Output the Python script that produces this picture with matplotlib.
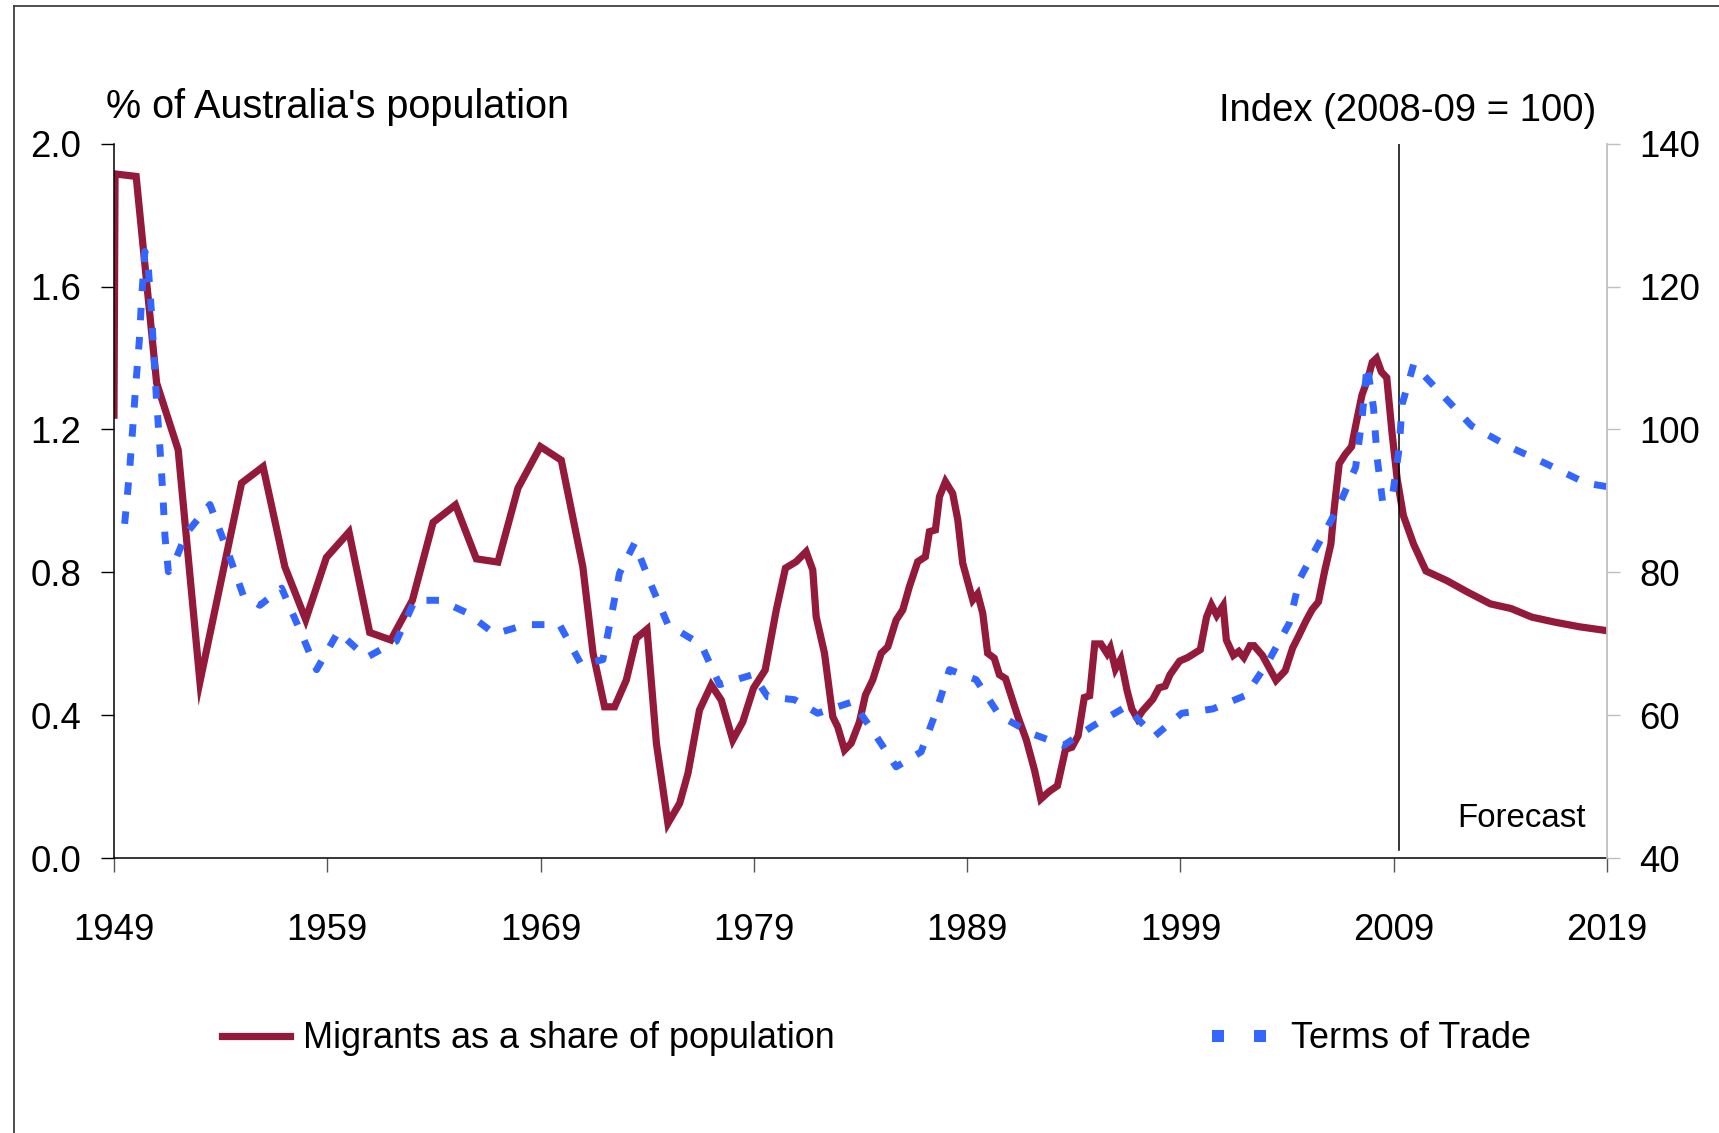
import matplotlib
matplotlib.use("Agg")
import matplotlib.pyplot as plt
import matplotlib.font_manager as fm
from matplotlib.lines import Line2D

# font: narrow sans if present, else regular with sizes scaled down
names = {f.name for f in fm.fontManager.ttflist}
if "Liberation Sans Narrow" in names:
    fam, k = "Liberation Sans Narrow", 1.0
else:
    fam, k = "Liberation Sans", 0.82
plt.rcParams["font.family"] = [fam, "DejaVu Sans"]

# migrants as a share of population (%)
mig_year = [1949.0, 1949.05, 1950.04, 1951.0, 1952.01, 1953.03, 1954.98, 1955.99,
            1957.01, 1957.99, 1958.96, 1960.02, 1960.99, 1961.98, 1962.99, 1963.96,
            1965.01, 1965.99, 1967.0, 1967.94, 1968.99, 1969.97, 1970.98, 1971.46,
            1972.0, 1972.47, 1973.02, 1973.49, 1973.99, 1974.43, 1974.97, 1975.52,
            1975.91, 1976.45, 1977.0, 1977.47, 1978.01, 1978.48, 1978.98, 1979.53,
            1980.05, 1980.48, 1980.98, 1981.45, 1981.76, 1981.92, 1982.31, 1982.70,
            1982.93, 1983.25, 1983.56, 1983.95, 1984.23, 1984.57, 1984.97, 1985.28,
            1985.67, 1985.98, 1986.29, 1986.68, 1987.04, 1987.23, 1987.51, 1987.70,
            1987.98, 1988.32, 1988.56, 1988.79, 1989.26, 1989.49, 1989.73, 1989.96,
            1990.27, 1990.51, 1990.8, 1991.38, 1991.77, 1992.16, 1992.45, 1992.84,
            1993.23, 1993.61, 1993.91, 1994.2, 1994.49, 1994.74, 1994.98, 1995.27,
            1995.56, 1995.71, 1995.95, 1996.2, 1996.49, 1996.72, 1996.98, 1997.21,
            1997.7, 1997.99, 1998.28, 1998.51, 1998.96, 1999.34, 1999.93, 2000.22,
            2000.45, 2000.7, 2001.0, 2001.15, 2001.48, 2001.73, 2001.97, 2002.26,
            2002.45, 2002.84, 2003.13, 2003.48, 2003.91, 2004.26, 2004.53, 2004.88,
            2005.17, 2005.47, 2005.76, 2006.05, 2006.2, 2006.44, 2006.73, 2007.02,
            2007.25, 2007.51, 2007.8, 2007.99, 2008.19, 2008.42, 2008.67, 2008.92,
            2009.16, 2009.45, 2009.93, 2010.51, 2011.49, 2012.46, 2013.53, 2014.5,
            2015.47, 2016.54, 2017.7, 2019.0]
mig_val = [1.24, 1.915, 1.908, 1.33, 1.143, 0.494, 1.05, 1.096,
           0.816, 0.668, 0.842, 0.913, 0.632, 0.611, 0.722, 0.94,
           0.989, 0.838, 0.829, 1.036, 1.152, 1.114, 0.816, 0.574,
           0.424, 0.424, 0.499, 0.616, 0.641, 0.322, 0.098, 0.154,
           0.238, 0.415, 0.485, 0.443, 0.331, 0.382, 0.476, 0.527,
           0.695, 0.812, 0.830, 0.858, 0.807, 0.676, 0.574, 0.396,
           0.368, 0.303, 0.322, 0.382, 0.457, 0.499, 0.574, 0.592,
           0.667, 0.695, 0.760, 0.830, 0.844, 0.914, 0.919, 1.012,
           1.054, 1.021, 0.947, 0.826, 0.723, 0.740, 0.686, 0.574,
           0.560, 0.514, 0.503, 0.396, 0.332, 0.246, 0.166, 0.187,
           0.203, 0.305, 0.311, 0.343, 0.450, 0.455, 0.600, 0.600,
           0.573, 0.589, 0.530, 0.557, 0.471, 0.418, 0.391, 0.412,
           0.445, 0.477, 0.482, 0.514, 0.552, 0.562, 0.584, 0.675,
           0.709, 0.680, 0.707, 0.611, 0.568, 0.579, 0.562, 0.595,
           0.595, 0.568, 0.536, 0.498, 0.525, 0.589, 0.621, 0.664,
           0.696, 0.718, 0.804, 0.879, 0.975, 1.104, 1.131, 1.152,
           1.222, 1.297, 1.345, 1.388, 1.399, 1.361, 1.345, 1.189,
           1.061, 0.959, 0.879, 0.804, 0.777, 0.745, 0.712, 0.699,
           0.675, 0.661, 0.648, 0.637]

# terms of trade index (2008-09 = 100)
tot_year = [1949.5, 1949.72, 1949.88, 1950.03, 1950.19, 1950.3, 1950.45, 1950.61,
            1950.77, 1950.88, 1951.0, 1951.16, 1951.29, 1951.39, 1951.55, 1951.75,
            1952.4, 1953.5, 1954.35, 1955.06, 1955.84, 1956.86, 1957.79, 1958.5,
            1959.51, 1960.84, 1962.24, 1963.1, 1964.27, 1965.52, 1966.85, 1968.33,
            1969.89, 1970.91, 1971.92, 1972.31, 1972.7, 1973.41, 1974.19, 1974.97,
            1976.53, 1977.39, 1978.95, 1979.65, 1980.9, 1981.99, 1983.63, 1984.65,
            1985.67, 1986.84, 1987.54, 1988.17, 1989.42, 1990.51, 1992.07, 1993.52,
            1994.88, 1996.44, 1997.79, 1999.06, 2000.51, 2002.06, 2003.13, 2004.1,
            2004.59, 2005.56, 2006.44, 2007.21, 2007.51, 2007.75, 2008.05, 2008.22,
            2008.48, 2008.96, 2009.25, 2009.39, 2009.93, 2011.19, 2012.65, 2014.4,
            2016.15, 2018.0, 2019.0]
tot_val = [86.8, 93.8, 100.2, 106.5, 112.5, 118.6, 124.9, 122.6,
           115.9, 109.9, 103.9, 97.2, 91.1, 85.1, 80.1, 80.8,
           85.5, 89.5, 82.8, 76.8, 75.4, 77.8, 71.4, 66.4,
           71.7, 68.1, 70.4, 76.1, 76.1, 74.4, 71.4, 72.7,
           72.7, 67.1, 67.8, 73.8, 79.9, 84.1, 78.2, 72.7,
           69.9, 64.3, 65.7, 62.6, 62.2, 60.3, 61.9, 57.5,
           52.8, 54.9, 60.5, 66.4, 65.0, 60.0, 57.4, 55.8,
           58.5, 61.2, 57.1, 60.3, 60.9, 62.8, 67.6, 72.9,
           79.1, 84.5, 89.4, 94.7, 101.5, 109.0, 103.0, 96.0,
           89.8, 91.2, 97.3, 103.5, 109.1, 105.1, 100.5, 97.6,
           95.2, 92.5, 92.0]

x_ticks = [1949, 1959, 1969, 1979, 1989, 1999, 2009, 2019]
left_ticks = [0.0, 0.4, 0.8, 1.2, 1.6, 2.0]
right_ticks = [40, 60, 80, 100, 120, 140]
forecast_start = 2009.25

red = "#931A3A"
blue = "#3366FF"

fig = plt.figure(figsize=(17.19, 11.33), dpi=100)
fig.subplots_adjust(left=0.0663, right=0.9349, top=0.8733, bottom=0.2424)
ax = fig.add_subplot(111)
ax2 = ax.twinx()

l1, = ax.plot(mig_year, mig_val, color=red, lw=5.2, solid_joinstyle="miter",
              label="Migrants as a share of population")
l2, = ax2.plot(tot_year, tot_val, color=blue, lw=5.0, linestyle=(0, (1.8, 2.4)),
               label="Terms of Trade")

ax.axvline(forecast_start, ymin=0.012, ymax=1.0, color="black", lw=1.1)
ax.text(2018.0, 0.089, "Forecast", ha="right", va="baseline", fontsize=29 * k)

ax.set_xlim(1949, 2019)
ax.set_ylim(0, 2.0)
ax2.set_ylim(40, 140)
ax.set_xticks(x_ticks)
ax.set_yticks(left_ticks)
ax.set_yticklabels([f"{v:.1f}" for v in left_ticks])
ax2.set_yticks(right_ticks)

for s in ["top", "right"]:
    ax.spines[s].set_visible(False)
for s in ["top", "left", "bottom"]:
    ax2.spines[s].set_visible(False)
ax.spines["left"].set_linewidth(1.1)
ax.spines["bottom"].set_linewidth(1.1)
ax2.spines["right"].set_color("#BFBFBF")
ax2.spines["right"].set_linewidth(1.3)

ax.tick_params(axis="y", direction="out", length=9.4, width=1.0, pad=14,
               labelsize=32 * k)
ax.tick_params(axis="x", direction="out", length=10, width=1.0, pad=29,
               labelsize=32 * k, color="#555555")
ax2.tick_params(axis="y", direction="out", length=9.4, width=1.0, pad=13.5,
                labelsize=32 * k, color="#BFBFBF")

fig.text(0.0617, 0.8959, "% of Australia's population", ha="left", va="baseline",
         fontsize=34.8 * k)
fig.text(0.9285, 0.8935, "Index (2008-09 = 100)", ha="right", va="baseline",
         fontsize=33.6 * k)

# legend: sizes of handles in pixels turned into font units
leg_fs = 31.6 * k
em = leg_fs * 100 / 72
# two square dashes for the terms of trade key
h_tot = Line2D([], [], color=blue, ls="none", marker="s", markersize=9.3,
               markeredgewidth=0, label="Terms of Trade")
fig.legend(handles=[l1], loc="center left", bbox_to_anchor=(0.129, 0.083),
           frameon=False, fontsize=leg_fs, handlelength=68 / em,
           handletextpad=13 / em, borderpad=0, borderaxespad=0)
fig.legend(handles=[h_tot], loc="center left", bbox_to_anchor=(0.7022, 0.083),
           frameon=False, fontsize=leg_fs, handlelength=42 / em + 0.6,
           handletextpad=20 / em, numpoints=2, borderpad=0, borderaxespad=0)

# partial frame round the picture
fig.add_artist(Line2D([0.0081, 1.0], [0.9947, 0.9947], color="#404040", lw=1.3))
fig.add_artist(Line2D([0.0081, 0.0081], [0.0, 0.9947], color="#404040", lw=1.3))

fig.savefig("out.png", dpi=100)
